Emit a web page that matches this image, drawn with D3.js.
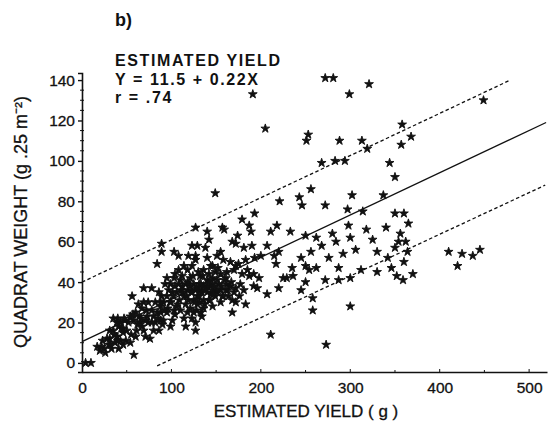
<!DOCTYPE html>
<html><head><meta charset="utf-8">
<script src="https://cdn.jsdelivr.net/npm/d3@7"></script>
<style>
html,body{margin:0;padding:0;background:#fff;}
svg{display:block;font-family:"Liberation Sans",Arial,Helvetica,sans-serif;}
</style></head>
<body>
<svg id="c" width="552" height="423"></svg>
<script>
// ---- data ----
const panelLabel = "b)";
const titleLines = ["ESTIMATED YIELD", "Y = 11.5 + 0.22X", "r = .74"];
const xTitle = "ESTIMATED YIELD  ( g )";
const yTitle = "QUADRAT WEIGHT (g .25 m\u207B\u00B2)";
const xTicks = [0, 100, 200, 300, 400, 500];
const yTicks = [0, 20, 40, 60, 80, 100, 120, 140];
// drawn regression line and dashed bands (end points)
const fitLine = [[0, 10.5], [519, 119]];
const upperBand = [[0, 40], [479, 140]];
const lowerBand = [[84, -1.5], [518, 88]];
// observations: estimated yield (g), quadrat weight
const obsX = [272,281,321,299,449,358,253,251,288,313,368,357,319,268,283,294,344,350,256,221,243,246,272,302,337,297,314,350,360,205,191,
149,193,179,187,189,218,211,233,250,157,159,127,140,142,138,140,174,168,172,181,190,200,193,207,215,217,220,245,155,158,89,89,103,108,129,127,84,235,236,225,229,220,207,192,196,183,172,168,211,250,254,69,78,56,58,4,10,116,127,134,
17,20,22,26,23,30,31,33,37,41,35,39,43,46,49,54,35,40,43,46,50,55,41,48,54,58,61,67,71,76,60,64,67,63,69,73,74,80,82,78,84,74,82,88,88,86,89,86,91,95,97,99,103,104,106,99,103,95,91,101,106,109,111,104,93,95,104,108,112,116,118,114,119,116,121,125,123,125,121,118,114,123,127,119,110,129,131,123,132,136,140,142,136,144,140,146,142,147,149,136,132,144,149,151,146,136,153,159,162,161,166,164,170,168,170,162,166,172,155,179,185,187,192,198,177,181,175,183,151,123,
121,127,131,134,129,125,140,144,151,155,146,157,112,108,101,88,80,71,65,69,60,46,39,31,
127,99,39,272,287,359,273,
262,268,256,280,284,292,300,306,318,325,330,342,350,354,362,356,365,340,298,276,287,262,250,245,258,300,312,330,346,352,360,364,370,425,437,445,420,410,300,258,
112,118,122,128,133,138,142,148,152,117,126,131,137,143,147,156,161,124,130,135,146,152,99,102,96,92,88,85,90,78,72,66,62,57,52,47,44,40,36,32,28,25,107,110,114,118,128,133,155,158,163,167,172,176];
const obsY = [141,141,138,133,130,118,113,110,110,110,112,108,106,99,100,100,99,92,86,80,82,78,78,83,83,76,75,74,74,116,133,
84,74,71,68,65,68,65,65,63,67,66,67,65,61,57,52,63,60,59,57,58,53,52,58,53,49,55,52,55,51,59,55,55,53,58,53,49,47,43,42,42,37,34,38,37,29,30,25,14,48,46,37,37,33,4,0,0,18,20,23,
8,6,8,5,11,9,12,7,10,7,16,13,11,9,11,10,22,22,20,17,16,14,18,21,23,21,16,18,13,12,25,23,27,29,30,23,20,16,20,26,25,30,30,28,21,16,33,35,30,33,36,39,42,38,35,30,26,25,21,21,28,31,36,24,39,42,44,46,43,39,36,33,31,29,27,25,35,39,42,46,48,48,51,53,41,33,30,22,36,38,35,31,31,38,41,42,44,36,33,46,43,48,45,41,28,27,39,41,39,36,38,33,35,31,46,45,50,48,44,44,46,43,44,42,39,36,49,51,53,58,
38,36,39,35,29,31,38,34,35,36,39,33,35,39,35,25,23,21,20,16,13,15,20,16,
16,18,13,41,41,41,9,
62,58,55,64,60,54,62,56,66,61,55,52,57,60,60,64,69,67,68,52,47,47,40,36,32,42,46,45,47,43,50,55,44,54,53,56,48,55,28,26,
38,40,35,37,39,36,40,38,36,33,30,33,29,31,34,38,42,43,45,43,48,47,30,33,27,26,30,22,19,20,26,22,19,24,20,22,17,11,14,9,12,7,29,26,22,25,26,25,30,33,36,40,37,33];

// ---- layout ----
const svg = d3.select("#c");
const x = d3.scaleLinear().domain([0, 520]).range([82, 547]);
const y = d3.scaleLinear().domain([-4.5, 143.5]).range([372, 73]);
const ink = "#111";

// axes
const yAxis = d3.axisLeft(y).tickValues(yTicks).tickSize(4).tickPadding(3).tickFormat(d3.format("d"));
const gy = svg.append("g").attr("transform", `translate(${x(0)},0)`).call(yAxis);
gy.select(".domain").attr("stroke", ink).attr("stroke-width", 1.6);
gy.selectAll(".tick line").attr("stroke", ink).attr("stroke-width", 1.4);
gy.selectAll(".tick text").attr("font-size", 15.5).attr("fill", ink)
  .attr("font-family", "'Liberation Sans',Arial,sans-serif").attr("stroke", ink).attr("stroke-width", 0.3);
const yMinor = d3.range(5, 141, 5).filter(v => v % 20 !== 0);
svg.append("g").selectAll("line").data(yMinor).join("line")
  .attr("x1", x(0) - 2).attr("x2", x(0) + 2).attr("y1", d => y(d)).attr("y2", d => y(d))
  .attr("stroke", ink).attr("stroke-width", 1);

const xAxis = d3.axisBottom(x).tickValues(xTicks).tickSize(0).tickPadding(10).tickFormat(d3.format("d"));
const gx = svg.append("g").attr("transform", `translate(0,${y(-4.5)})`).call(xAxis);
gx.select(".domain").attr("stroke", ink).attr("stroke-width", 1.6);
gx.selectAll(".tick text").attr("font-size", 15.5).attr("fill", ink)
  .attr("font-family", "'Liberation Sans',Arial,sans-serif").attr("stroke", ink).attr("stroke-width", 0.3);
svg.append("g").selectAll("line").data(d3.range(50, 520, 50)).join("line")
  .attr("x1", d => x(d)).attr("x2", d => x(d))
  .attr("y1", d => y(-4.5) - (d % 100 === 0 ? 3 : 2)).attr("y2", y(-4.5))
  .attr("stroke", ink).attr("stroke-width", 1);

// lines
const line = d3.line().x(d => x(d[0])).y(d => y(d[1]));
svg.append("path").attr("d", line(fitLine)).attr("fill", "none").attr("stroke", ink).attr("stroke-width", 1.3);
[upperBand, lowerBand].forEach(b => {
  svg.append("path").attr("d", line(b)).attr("fill", "none").attr("stroke", ink)
    .attr("stroke-width", 1.3).attr("stroke-dasharray", "3.5,2.5");
});

// points
const sym = d3.symbol().type(d3.symbolStar).size(24);
svg.append("g").selectAll("path").data(obsX.map((v, i) => [v, obsY[i]])).join("path")
  .attr("d", sym).attr("transform", d => `translate(${x(d[0])},${y(d[1])})`)
  .attr("fill", ink).attr("stroke", ink).attr("stroke-width", 0.9);

// titles
svg.append("text").attr("x", 115).attr("y", 26).text(panelLabel)
  .attr("font-size", 18).attr("font-weight", "bold").attr("fill", ink);
titleLines.forEach((t, i) => {
  svg.append("text").attr("x", 115).attr("y", 66 + i * 18.5).text(t)
    .attr("font-size", 16).attr("font-weight", "bold").attr("letter-spacing", 1.6).attr("fill", ink);
});
svg.append("text").attr("x", 306).attr("y", 417).attr("text-anchor", "middle").text(xTitle)
  .attr("font-size", 17).attr("fill", ink).attr("stroke", ink).attr("stroke-width", 0.3);
svg.append("text").attr("transform", "translate(27,222) rotate(-90)").attr("text-anchor", "middle").text(yTitle)
  .attr("font-size", 18).attr("fill", ink).attr("stroke", ink).attr("stroke-width", 0.3);
</script>
</body></html>
